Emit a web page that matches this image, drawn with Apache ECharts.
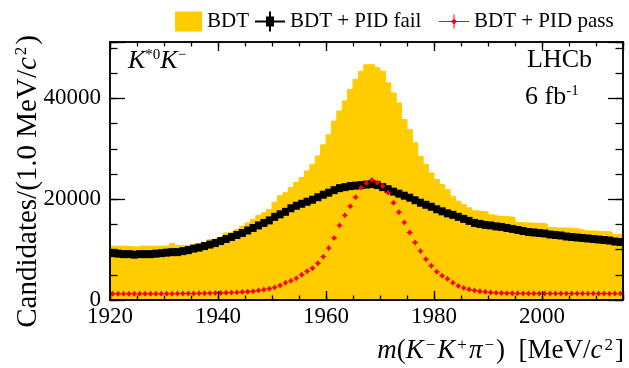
<!DOCTYPE html>
<html><head><meta charset="utf-8">
<script src="https://cdn.jsdelivr.net/npm/echarts@6/dist/echarts.min.js"></script>
<style>html,body{margin:0;padding:0;background:#fff}#c{width:629px;height:368px}</style>
</head><body><div id="c"></div>
<script>
// bin lower edges [MeV/c^2], 1 MeV bins
const binLow = [1920,1921,1922,1923,1924,1925,1926,1927,1928,1929,
1930,1931,1932,1933,1934,1935,1936,1937,1938,1939,
1940,1941,1942,1943,1944,1945,1946,1947,1948,1949,
1950,1951,1952,1953,1954,1955,1956,1957,1958,1959,
1960,1961,1962,1963,1964,1965,1966,1967,1968,1969,
1970,1971,1972,1973,1974,1975,1976,1977,1978,1979,
1980,1981,1982,1983,1984,1985,1986,1987,1988,1989,
1990,1991,1992,1993,1994,1995,1996,1997,1998,1999,
2000,2001,2002,2003,2004,2005,2006,2007,2008,2009,
2010,2011,2012,2013,2014];
const binWidth = 1;

const bdt = [10700,10700,10700,10600,10500,10700,10700,10700,10700,10700,
10700,11200,10800,10800,10900,11200,11200,11400,12000,12300,
12650,13300,13600,14000,14650,15300,16000,16800,17300,17950,
19400,20700,21300,22300,23300,24300,25600,26900,28600,30800,
32800,35500,37500,39500,41800,43800,45400,46700,46700,46100,
45400,43100,41100,39100,35800,33800,31200,28500,26900,25200,
23900,22900,21900,20600,19600,18950,18300,17700,17600,17500,
16900,16600,16600,16500,16400,15400,15300,15300,15200,15200,
15100,14400,14300,14300,14300,14200,14100,13800,13700,13700,
13600,13600,13500,13000,13100];

const pidFail = [9300,9200,9100,9100,9000,9100,9100,9100,9200,9300,
9400,9500,9500,9700,9900,10200,10400,10700,11000,11300,
11700,12100,12500,12900,13300,13800,14300,14800,15300,15800,
16500,17000,17500,18200,18700,19100,19500,19900,20400,20900,
21300,21800,22200,22400,22600,22700,22800,22900,23000,22800,
22400,22000,21500,21100,20700,20300,19800,19300,18900,18500,
18000,17600,17200,16900,16500,16100,15700,15300,15100,14900,
14800,14600,14500,14300,14100,13900,13700,13500,13400,13300,
13200,13000,12900,12800,12600,12500,12400,12300,12200,12100,
12000,11900,11800,11600,11500];

const pidPass = [1250,1230,1220,1240,1230,1220,1250,1230,1240,1250,
1260,1250,1270,1280,1290,1300,1320,1340,1360,1380,
1400,1430,1470,1520,1580,1650,1750,1880,2050,2250,
2500,2900,3400,3800,4300,5000,5700,6300,7300,8600,
10300,12300,14800,16800,18600,20400,22300,23200,23800,23300,
22600,21300,19300,17400,15400,13400,11400,9700,8100,6800,
5600,4800,4200,3400,2800,2400,2100,1900,1750,1620,
1480,1420,1380,1350,1330,1320,1310,1300,1300,1290,
1300,1280,1290,1300,1280,1270,1290,1280,1270,1280,
1270,1280,1260,1270,1280];

const xTickLabels = [1920,1940,1960,1980,2000];
const yTickLabels = [0,20000,40000];
const seriesNames = ['BDT','BDT + PID fail','BDT + PID pass'];

const F = '"Liberation Serif","Times New Roman",serif';
const chart = echarts.init(document.getElementById('c'), null, {renderer:'canvas'});

const bdtStep = binLow.map((x,i)=>[x, bdt[i]]);
bdtStep.push([binLow[binLow.length-1]+binWidth, bdt[bdt.length-1]]);
const failPts = binLow.map((x,i)=>[x+binWidth/2, pidFail[i]]);
const passPts = binLow.map((x,i)=>[x+binWidth/2, pidPass[i]]);

const XMIN=1920, XMAX=2015, YMIN=0, YMAX=51200;

function xAx(pos, interval, len, showLab){
  return {type:'value', position:pos, min:XMIN, max:XMAX, interval:interval, z:10,
    axisLine:{show:true,onZero:false,lineStyle:{color:'#000',width:1.5}},
    axisTick:{show:true,inside:true,length:len,lineStyle:{color:'#000',width:1.3}},
    axisLabel:{show:showLab,fontFamily:F,fontSize:23,color:'#000',margin:5,
      formatter:v=>xTickLabels.includes(v)?String(v):''},
    splitLine:{show:false}};
}
function yAx(pos, interval, len, showLab){
  return {type:'value', position:pos, min:YMIN, max:YMAX, interval:interval, z:10,
    axisLine:{show:true,onZero:false,lineStyle:{color:'#000',width:1.5}},
    axisTick:{show:true,inside:true,length:len,lineStyle:{color:'#000',width:1.3}},
    axisLabel:{show:showLab,fontFamily:F,fontSize:23,color:'#000',margin:9,
      formatter:v=>yTickLabels.includes(v)?String(v):''},
    splitLine:{show:false}};
}

const failIcon = 'path://M0,9 L30,9 L30,11 L0,11 Z M11,5 L19,5 L19,15 L11,15 Z M14,0 L16,0 L16,20 L14,20 Z';
const passIcon = 'path://M0,9.5 L30,9.5 L30,10.5 L0,10.5 Z M14.5,3 L15.5,3 L15.5,17 L14.5,17 Z M12,10 L15,7 L18,10 L15,13 Z';
const passSym = 'path://M0,4.4 L1.5,4.4 L5,1 L8.5,4.4 L10,4.4 L10,5.6 L8.5,5.6 L5,9 L1.5,5.6 L0,5.6 Z';

const legText = {fontFamily:F,fontSize:21,color:'#000'};
const supS = {fontFamily:F,fontSize:15,verticalAlign:'top',fill:'#000'};
const supX = {fontFamily:F,fontSize:17,verticalAlign:'top',fill:'#000',padding:[0,2,0,2]};

const option = {
  animation:false,
  backgroundColor:'#fff',
  grid:{left:110,right:6,top:42,bottom:68,containLabel:false,outerBoundsMode:'none'},
  xAxis:[xAx('bottom',20,9,true), xAx('bottom',5,4.5,false), xAx('top',20,9,false), xAx('top',5,4.5,false)],
  yAxis:[yAx('left',20000,15,true), yAx('left',5000,7.5,false), yAx('right',20000,15,false), yAx('right',5000,7.5,false)],
  legend:[
    {data:[{name:seriesNames[0],icon:'rect'}],left:170,top:6,itemWidth:27,itemHeight:20,textStyle:legText,selectedMode:false},
    {data:[{name:seriesNames[1],icon:failIcon}],left:250,top:6,itemWidth:30,itemHeight:20,textStyle:legText,selectedMode:false},
    {data:[{name:seriesNames[2],icon:passIcon}],left:434,top:6,itemWidth:30,itemHeight:20,textStyle:legText,selectedMode:false}
  ],
  series:[
    {name:seriesNames[0],type:'line',data:bdtStep,step:'end',symbol:'none',
     lineStyle:{color:'#FFCC00',width:1},itemStyle:{color:'#FFCC00'},
     areaStyle:{color:'#FFCC00',opacity:1},z:2,silent:true},
    {name:seriesNames[1],type:'scatter',data:failPts,symbol:'rect',symbolSize:[7,8],
     itemStyle:{color:'#000',opacity:1},z:3,silent:true},
    {name:seriesNames[2],type:'scatter',data:passPts,symbol:passSym,symbolSize:[6,6],
     itemStyle:{color:'#FF0000',opacity:1},z:4,silent:true}
  ],
  graphic:[
    {type:'text',x:128,y:61,z:20,style:{text:'{i|K}{s|*0}{i|K}{s|\u2212}',verticalAlign:'middle',
      rich:{i:{fontFamily:F,fontStyle:'italic',fontSize:26,fill:'#000'},s:supS}}},
    {type:'text',x:527,y:60,z:20,style:{text:'LHCb',font:'26px '+F,fill:'#000',verticalAlign:'middle'}},
    {type:'text',x:525,y:97,z:20,style:{text:'{r|6 fb}{s|-1}',verticalAlign:'middle',
      rich:{r:{fontFamily:F,fontSize:26,fill:'#000'},s:supS}}},
    {type:'text',x:624,y:351,z:20,style:{text:'{i|m}{r|(}{i|K}{s|\u2212}{i|K}{s|+}{i|\u03c0}{s|\u2212}{r|)  [MeV/}{i|c}{s|2}{r|]}',
      align:'right',verticalAlign:'middle',
      rich:{i:{fontFamily:F,fontStyle:'italic',fontSize:27,fill:'#000'},r:{fontFamily:F,fontSize:27,fill:'#000'},s:supX}}},
    {type:'text',x:28,y:35,rotation:Math.PI/2,z:20,style:{text:'{r|Candidates/(1.0 MeV/}{i|c}{s|2}{r|)}',
      align:'right',verticalAlign:'middle',
      rich:{i:{fontFamily:F,fontStyle:'italic',fontSize:29,fill:'#000'},r:{fontFamily:F,fontSize:29,fill:'#000'},s:supX}}}
  ]
};
chart.setOption(option);
</script></body></html>
